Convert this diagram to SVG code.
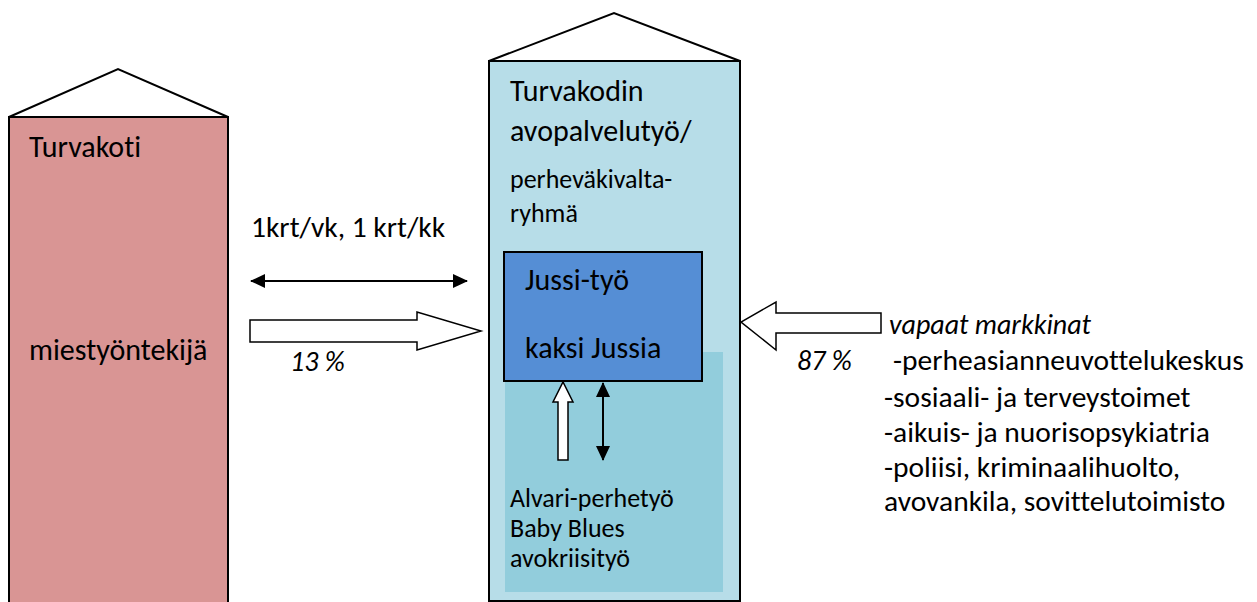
<svg xmlns="http://www.w3.org/2000/svg" width="1257" height="602" viewBox="0 0 1257 602">
<style>
.t{font-family:Carlito,Lato,"Open Sans",sans-serif;fill:#000;font-variant-ligatures:none;font-feature-settings:"liga" 0}
.big{font-size:30px}
.lst{font-size:29.5px}
.mid{font-size:26px}
.it{font-style:italic;font-size:28px}
.ln{stroke:#000;stroke-width:2;fill:none}
.blk{fill:#fff;stroke:#000;stroke-width:1.5}
</style>
<defs>
<marker id="ah" viewBox="0 0 15 14" refX="14" refY="7" markerWidth="15" markerHeight="14" orient="auto-start-reverse" markerUnits="userSpaceOnUse">
<path d="M0,0 L15,7 L0,14 z" fill="#000"/>
</marker>
</defs>
<rect width="1257" height="602" fill="#fff"/>
<g id="turvakoti">
<polygon points="9,117 118,69 228,117" fill="#fff" stroke="#000" stroke-width="2"/>
<rect x="9" y="117" width="219" height="490" fill="#D99594" stroke="#000" stroke-width="2"/>
<text class="t big" x="29" y="157">Turvakoti</text>
<text class="t big" x="29" y="360">miestyöntekijä</text>
</g>
<g id="avopalvelu">
<polygon points="489,61 614,13 740,61" fill="#fff" stroke="#000" stroke-width="2"/>
<rect x="489" y="61" width="251" height="540" fill="#B7DDE8" stroke="#000" stroke-width="2"/>
<text class="t big" x="510" y="101">Turvakodin</text>
<text class="t big" x="510" y="141">avopalvelutyö/</text>
<text class="t mid" x="510" y="188">perheväkivalta-</text>
<text class="t mid" x="510" y="222">ryhmä</text>
</g>
<g id="alvari">
<rect x="505" y="352" width="218" height="240" fill="#92CDDC"/>
<text class="t mid" x="510" y="507">Alvari-perhetyö</text>
<text class="t mid" x="510" y="537">Baby Blues</text>
<text class="t mid" x="510" y="567">avokriisityö</text>
</g>
<g id="jussi">
<rect x="504" y="252" width="198" height="129" fill="#558ED5" stroke="#000" stroke-width="2"/>
<text class="t big" x="525" y="290">Jussi-työ</text>
<text class="t big" x="525" y="358">kaksi Jussia</text>
</g>
<g id="markkinat">
<text class="t it" x="889" y="334">vapaat markkinat</text>
<text class="t lst" x="893" y="370">-perheasianneuvottelukeskus</text>
<text class="t lst" x="884" y="407">-sosiaali- ja terveystoimet</text>
<text class="t lst" x="884" y="442">-aikuis- ja nuorisopsykiatria</text>
<text class="t lst" x="884" y="477">-poliisi, kriminaalihuolto,</text>
<text class="t lst" x="884" y="511">avovankila, sovittelutoimisto</text>
</g>
<g id="connectors">
<text class="t lst" x="251" y="237">1krt/vk, 1 krt/kk</text>
<line class="ln" x1="251" y1="281" x2="467" y2="281" marker-start="url(#ah)" marker-end="url(#ah)"/>
<polygon class="blk" points="250,320 417,320 417,312 481,331 417,350 417,342 250,342"/>
<text class="t it" x="290" y="371">13 %</text>
<polygon class="blk" points="881,313 776,313 776,302 741,322 776,350 776,333 881,333"/>
<text class="t it" x="797" y="370">87 %</text>
<polygon class="blk" points="558,460 558,402 553,402 563,382 573,402 568,402 568,460"/>
<line class="ln" x1="603" y1="383" x2="603" y2="460" marker-start="url(#ah)" marker-end="url(#ah)"/>
</g>
</svg>
